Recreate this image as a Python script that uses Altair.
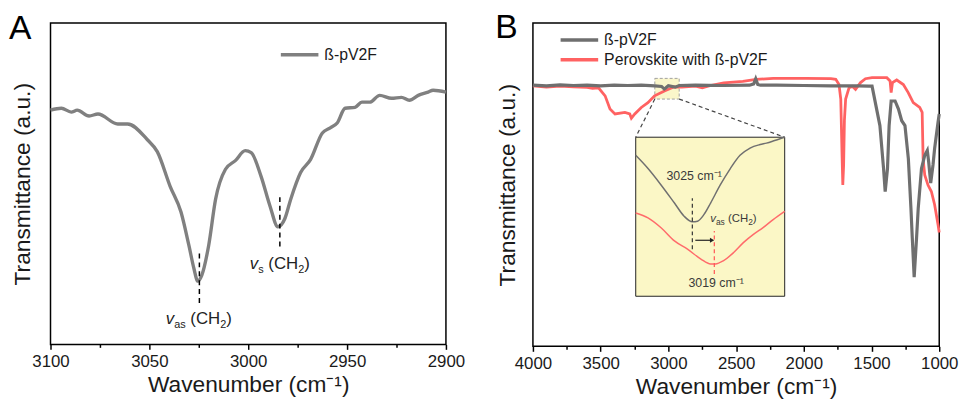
import altair as alt
import pandas as pd

FONT = "Liberation Sans"
INK = "#1a1a1a"

# ---------------- Panel A : beta-pV2F, 3100-2900 cm-1 ----------------
a_wn = [3100, 3094.5, 3089.5, 3086.5, 3080.5, 3076, 3066, 3061, 3051, 3046, 3039.5, 3034,
        3030, 3027.5, 3025.5, 3023.5, 3020, 3016.5, 3011.5, 3006.5, 3001.5, 2998.5, 2993.5,
        2989, 2985, 2981.5, 2978.5, 2973.5, 2968.5, 2962.5, 2958.5, 2955, 2951, 2946, 2942.5,
        2938.5, 2933.5, 2927.5, 2922.5, 2918.5, 2914, 2909, 2906.5, 2900]
a_t = [72.9, 73.5, 72.3, 72.9, 71.1, 71.7, 68.6, 68.6, 63.7, 60.0, 49.2, 41.2,
       30.8, 23.7, 19.7, 21.5, 30.8, 45.2, 54.5, 57.2, 60.3, 59.7, 52.3,
       43.1, 36.6, 39.1, 45.2, 53.5, 57.5, 65.8, 67.4, 68.9, 73.5, 73.8, 75.4,
       75.4, 77.5, 76.6, 76.9, 76.0, 77.5, 78.5, 79.1, 78.5]
a_ticks = [3100, 3050, 3000, 2950, 2900]
a_minor = [3075, 3025, 2975, 2925]
# peak markers (dashed) : wavenumber, lower and upper end
a_mark_wn = [3024.7, 2984.0]
a_mark_lo = [12.9, 30.5]
a_mark_hi = [28.9, 45.8]
# peak labels: centre wavenumber, baseline level, subscript
a_lab_wn = [3025.0, 2984.0]
a_lab_t = [6.2, 23.4]
a_lab_sub = ["as", "s"]

# ---------------- Panel B : full spectra 4000-1000 cm-1 ----------------
series = ["ß-pV2F", "Perovskite with ß-pV2F"]
colors = ["#6f6f6f", "#ff6262"]
b_gray_wn = [4000, 3900, 3800, 3700, 3600, 3500, 3400, 3300, 3200, 3100, 3050, 3030, 3020,
             3000, 2950, 2920, 2800, 2600, 2400, 2370, 2355, 2340, 2320, 2200, 2000, 1800,
             1600, 1520, 1496, 1438, 1411, 1399, 1382, 1370, 1355, 1326, 1301, 1277, 1253,
             1228, 1209, 1199, 1185, 1168, 1155, 1131, 1107, 1088, 1078, 1063, 1046, 1034,
             1009, 1000]
b_gray_t = [80.8, 80.6, 80.9, 80.7, 80.8, 80.6, 80.8, 80.7, 80.8, 80.6, 80.4, 79.6, 79.9,
            80.6, 80.2, 80.7, 80.8, 80.7, 80.8, 81.2, 82.8, 81.0, 80.8, 80.8, 80.7, 80.6,
            80.6, 80.5, 80.5, 68.3, 55.0, 47.9, 55.0, 68.3, 75.9, 75.9, 73.4, 69.8, 68.3,
            58.1, 42.8, 33.6, 21.4, 33.1, 42.8, 55.0, 59.1, 60.6, 57.1, 50.5, 56.1, 61.2,
            69.3, 71.9]
b_red_wn = [4000, 3900, 3800, 3700, 3600, 3560, 3516, 3467, 3431, 3394, 3321, 3285, 3273,
            3248, 3200, 3151, 3102, 3029, 2956, 2900, 2800, 2750, 2700, 2591, 2450, 2353,
            2226, 1985, 1800, 1764, 1740, 1727, 1718, 1712, 1706, 1700, 1691, 1666, 1640,
            1618, 1581, 1545, 1496, 1387, 1363, 1355, 1345, 1314, 1265, 1229, 1192, 1144,
            1126, 1119, 1107, 1083, 1058, 1034, 1009, 1000]
b_red_t = [80.6, 80.2, 80.5, 80.3, 80.1, 79.8, 80.0, 77.5, 73.4, 71.9, 72.4, 71.9, 70.6,
           71.9, 73.9, 75.4, 77.5, 79.0, 80.3, 80.2, 80.5, 80.0, 80.6, 81.5, 82.0, 82.6,
           82.9, 82.9, 82.8, 82.6, 81.0, 76.5, 60.0, 49.9, 56.0, 70.0, 76.5, 80.0, 80.4,
           79.5, 81.6, 82.8, 83.1, 83.1, 82.1, 78.5, 81.6, 82.4, 81.0, 78.5, 75.4, 73.9,
           72.4, 58.1, 53.0, 49.9, 47.9, 43.8, 37.7, 35.2]
b_ticks = [4000, 3500, 3000, 2500, 2000, 1500, 1000]
b_minor = [3750, 3250, 2750, 2250, 1750, 1250]
# zoom window on the spectra and where the inset sits (in the main axes' units)
zoom_wn = [3100, 2920]
zoom_t = [76.5, 82.9]
inset_wn = [3241, 2141]
inset_t = [15.5, 64.7]

# ---------------- Inset : 3040-3000 cm-1 ----------------
in_gray_wn = [3040, 3036.7, 3033.2, 3029.6, 3027, 3024.8, 3023.4, 3021.7, 3019.9, 3017.3,
              3014.6, 3012, 3009.3, 3006.6, 3004.9, 3002.7, 3000]
in_gray_t = [88.6, 80.3, 70.0, 58.6, 50.3, 46.8, 47.2, 51.3, 58.6, 70.0,
             80.3, 88.6, 93.2, 95.4, 96.3, 97.9, 100.0]
in_red_wn = [3040, 3036.7, 3033.2, 3029.6, 3026.1, 3022.5, 3019.9, 3018.6, 3016.4, 3013.7,
             3011.1, 3008.4, 3005.8, 3003.1, 3000]
in_red_t = [52.4, 49.3, 43.1, 34.8, 29.6, 23.4, 20.3, 20.3, 22.4, 27.5,
            33.7, 38.9, 43.1, 48.2, 53.4]
in_ticks = [3040, 3030, 3020, 3010, 3000]
in_mark_wn = [3024.8, 3018.9]
in_mark_lo = [29.6, 14.0]
in_mark_hi = [61.7, 41.0]
in_mark_col = ["#333333", "#ff5555"]
in_arrow = [3024.0, 3019.5, 35.2]
in_peak_wn = [3024.3, 3018.4]
in_peak_t = [73.0, 5.8]
in_peak_txt = ["3025 cm⁻¹", "3019 cm⁻¹"]
in_lab = [3020.0, 46.8]

# ---------------- layout constants ----------------
A_W, A_H = 400, 325
B_W, B_H = 411, 327

ARIAL = {"v": 0.5, "a": 0.556, "s": 0.5, " ": 0.278, "(": 0.333, "C": 0.722,
         "H": 0.722, "2": 0.556, ")": 0.333}


def tw(s, fs):
    return sum(ARIAL.get(c, 0.556) for c in s) * fs


def composite(x, y, sub, xs, ys, big, small, sdy, center, color):
    # (text, size, italic, dy, extra gap before)
    segs = [("v", big, True, 0, 0.0), (sub, small, False, sdy, 0.0),
            ("(CH", big, False, 0, tw(" ", big)), ("2", small, False, sdy, 0.0),
            (")", big, False, 0, 0.0)]
    total = sum(tw(s, f) + g for s, f, _, _, g in segs)
    cur = -total / 2 if center else 0
    out = []
    df = pd.DataFrame({"x": [x], "y": [y]})
    for s, f, it, dy, gap in segs:
        cur += gap
        out.append(
            alt.Chart(df).mark_text(align="left", baseline="alphabetic", dx=cur, dy=dy,
                                    fontSize=f, font=FONT, color=color,
                                    fontStyle="italic" if it else "normal", text=s)
            .encode(x=alt.X("x:Q", scale=xs, axis=None), y=alt.Y("y:Q", scale=ys, axis=None))
        )
        cur += tw(s, f)
    return out


def main_axis(values, title):
    return alt.Axis(values=values, format="d", title=title, labelFontSize=17,
                    titleFontSize=23, titleFontWeight="normal", labelFlush=False,
                    labelOverlap=False, tickSize=5, tickWidth=1.5, tickColor="black",
                    domain=False, grid=False, labelPadding=4, titlePadding=5,
                    labelColor=INK, titleColor=INK, labelFont=FONT, titleFont=FONT)


def minor_axis(values):
    return alt.Axis(orient="bottom", values=values, labels=False, title=None, tickSize=3,
                    tickWidth=1.5, tickColor="black", domain=False, grid=False)


def y_title_axis(pad):
    return alt.Axis(title="Transmittance (a.u.)", labels=False, ticks=False, domain=False,
                    grid=False, titleFontSize=23, titleFontWeight="normal", titlePadding=pad,
                    titleColor=INK, titleFont=FONT)


def legend(lx, ly):
    return alt.Legend(orient="none", legendX=lx, legendY=ly, title=None, symbolType="stroke",
                      symbolSize=1444, symbolStrokeWidth=3.5, clipHeight=20, labelFontSize=16,
                      labelFont=FONT, padding=0, labelOffset=4, rowPadding=0, labelColor=INK,
                      labelLimit=400)


# ================= Panel A =================
xsA = alt.Scale(domain=[2900, 3100], reverse=True, nice=False, zero=False)
ysA = alt.Scale(domain=[0, 100], nice=False, zero=False)

dfA = pd.DataFrame({"wn": a_wn, "t": a_t, "series": series[0]})
lineA = alt.Chart(dfA).mark_line(strokeWidth=3.4, interpolate="monotone").encode(
    x=alt.X("wn:Q", scale=xsA, axis=main_axis(a_ticks, "Wavenumber (cm⁻¹)")),
    y=alt.Y("t:Q", scale=ysA, axis=y_title_axis(16)),
    color=alt.Color("series:N", scale=alt.Scale(domain=[series[0]], range=["#808080"]),
                    legend=legend(231, 22)),
)
dfAm = pd.DataFrame({"wn": a_mark_wn, "lo": a_mark_lo, "hi": a_mark_hi})
marksA = alt.Chart(dfAm).mark_rule(color="black", strokeWidth=1.5, strokeDash=[5, 4]).encode(
    x=alt.X("wn:Q", scale=xsA, axis=minor_axis(a_minor)),
    y=alt.Y("lo:Q", scale=ysA, axis=None), y2="hi:Q",
)
labelsA = []
for wn_, t_, sub_ in zip(a_lab_wn, a_lab_t, a_lab_sub):
    labelsA += composite(wn_, t_, sub_, xsA, ysA, 17, 11, 4, True, "#222222")
letterA = alt.Chart(pd.DataFrame({"k": ["A"]})).mark_text(
    x=-42, y=16, fontSize=34, align="left", baseline="alphabetic", font=FONT, color="black"
).encode(text="k:N")

panelA = alt.layer(lineA, marksA, *labelsA, letterA).resolve_axis(
    x="independent", y="independent").properties(width=A_W, height=A_H)

# ================= Panel B =================
xsB = alt.Scale(domain=[1000, 4000], reverse=True, nice=False, zero=False)
ysB = alt.Scale(domain=[0, 100], nice=False, zero=False)
colB = alt.Scale(domain=series, range=colors)

dfZoom = pd.DataFrame({"x1": [zoom_wn[0]], "x2": [zoom_wn[1]], "y1": [zoom_t[0]], "y2": [zoom_t[1]]})
zoomRect = alt.Chart(dfZoom).mark_rect(fill="#f5ef9f", fillOpacity=0.55, stroke="#a0a0a0",
                                       strokeDash=[3, 2], strokeWidth=1).encode(
    x=alt.X("x1:Q", scale=xsB, axis=None), x2="x2:Q",
    y=alt.Y("y1:Q", scale=ysB, axis=None), y2="y2:Q")

dfRed = pd.DataFrame({"wn": b_red_wn, "t": b_red_t, "series": series[1]})
dfGray = pd.DataFrame({"wn": b_gray_wn, "t": b_gray_t, "series": series[0]})
redB = alt.Chart(dfRed).mark_line(strokeWidth=2.8).encode(
    x=alt.X("wn:Q", scale=xsB, axis=main_axis(b_ticks, "Wavenumber (cm⁻¹)")),
    y=alt.Y("t:Q", scale=ysB, axis=y_title_axis(14)),
    color=alt.Color("series:N", scale=colB, legend=legend(26, 7)))
grayB = alt.Chart(dfGray).mark_line(strokeWidth=3.2).encode(
    x=alt.X("wn:Q", scale=xsB, axis=None),
    y=alt.Y("t:Q", scale=ysB, axis=None),
    color=alt.Color("series:N", scale=colB, legend=legend(26, 7)))

dfConn = pd.DataFrame({"x1": zoom_wn, "y1": [zoom_t[0], zoom_t[0]],
                       "x2": inset_wn, "y2": [inset_t[1], inset_t[1]]})
conn = alt.Chart(dfConn).mark_rule(color="#444444", strokeWidth=1.2, strokeDash=[4, 3]).encode(
    x=alt.X("x1:Q", scale=xsB, axis=minor_axis(b_minor)), x2="x2:Q",
    y=alt.Y("y1:Q", scale=ysB, axis=None), y2="y2:Q")
letterB = alt.Chart(pd.DataFrame({"k": ["B"]})).mark_text(
    x=-38, y=15, fontSize=34, align="left", baseline="alphabetic", font=FONT, color="black"
).encode(text="k:N")

mainB = alt.layer(zoomRect, redB, grayB, conn, letterB).resolve_axis(
    x="independent", y="independent")

# inset scales: pixel range derived from where the inset sits in the main axes
in_left = (4000 - inset_wn[0]) / 3000 * B_W
in_right = (4000 - inset_wn[1]) / 3000 * B_W
in_bottom = B_H * (1 - inset_t[0] / 100)
in_top = B_H * (1 - inset_t[1] / 100)
xsI = alt.Scale(domain=[3000, 3040], range=[in_right, in_left], nice=False, zero=False)
ysI = alt.Scale(domain=[0, 100], range=[in_bottom, in_top], nice=False, zero=False)

dfFrame = pd.DataFrame({"x1": [3040], "x2": [3000], "y1": [0], "y2": [100]})
frameI = alt.Chart(dfFrame).mark_rect(fill="#fbf7c6", stroke="#222222", strokeWidth=1).encode(
    x=alt.X("x1:Q", scale=xsI,
            axis=alt.Axis(orient="bottom", offset=-(B_H - in_bottom), values=in_ticks,
                          format="d", labelFontSize=11.5, labelFlush=False, labelOverlap=False,
                          ticks=False, domain=False, grid=False, title="Wavenumber (cm⁻¹)",
                          titleFontSize=14, titleFontWeight="normal", labelPadding=4,
                          titlePadding=4, labelColor="#444444", titleColor="#444444",
                          labelFont=FONT, titleFont=FONT)),
    x2="x2:Q",
    y=alt.Y("y1:Q", scale=ysI,
            axis=alt.Axis(orient="left", offset=-in_left, labels=False, ticks=False,
                          domain=False, grid=False, title="Transmittance (a.u.)",
                          titleFontSize=14, titleFontWeight="normal", titlePadding=5,
                          titleColor="#444444", titleFont=FONT)),
    y2="y2:Q")

dfIg = pd.DataFrame({"wn": in_gray_wn, "t": in_gray_t})
dfIr = pd.DataFrame({"wn": in_red_wn, "t": in_red_t})
grayI = alt.Chart(dfIg).mark_line(color="#707070", strokeWidth=1.5, interpolate="monotone").encode(
    x=alt.X("wn:Q", scale=xsI, axis=None), y=alt.Y("t:Q", scale=ysI, axis=None))
redI = alt.Chart(dfIr).mark_line(color="#ff6b6b", strokeWidth=1.5, interpolate="monotone").encode(
    x=alt.X("wn:Q", scale=xsI, axis=None), y=alt.Y("t:Q", scale=ysI, axis=None))
dfIm = pd.DataFrame({"wn": in_mark_wn, "lo": in_mark_lo, "hi": in_mark_hi, "c": in_mark_col})
marksI = alt.Chart(dfIm).mark_rule(strokeWidth=1.2, strokeDash=[4, 3]).encode(
    x=alt.X("wn:Q", scale=xsI, axis=None), y=alt.Y("lo:Q", scale=ysI, axis=None), y2="hi:Q",
    color=alt.Color("c:N", scale=None))
dfArr = pd.DataFrame({"x1": [in_arrow[0]], "x2": [in_arrow[1]], "y": [in_arrow[2]]})
arrowLine = alt.Chart(dfArr).mark_rule(color="#222222", strokeWidth=1.2).encode(
    x=alt.X("x1:Q", scale=xsI, axis=None), x2="x2:Q", y=alt.Y("y:Q", scale=ysI, axis=None))
arrowHead = alt.Chart(dfArr).mark_point(shape="triangle-right", filled=True, size=25,
                                        color="#222222", opacity=1).encode(
    x=alt.X("x2:Q", scale=xsI, axis=None), y=alt.Y("y:Q", scale=ysI, axis=None))
dfPk = pd.DataFrame({"wn": in_peak_wn, "t": in_peak_t, "txt": in_peak_txt})
peakTxt = alt.Chart(dfPk).mark_text(fontSize=12.5, font=FONT, color="#3a3a3a", align="center",
                                    baseline="alphabetic").encode(
    x=alt.X("wn:Q", scale=xsI, axis=None), y=alt.Y("t:Q", scale=ysI, axis=None), text="txt:N")
labI = composite(in_lab[0], in_lab[1], "as", xsI, ysI, 11.5, 8.5, 3, False, "#3a3a3a")

insetB = alt.layer(frameI, grayI, redI, marksI, arrowLine, arrowHead, peakTxt, *labI)

panelB = alt.layer(mainB, insetB).resolve_scale(x="independent", y="independent").properties(
    width=B_W, height=B_H)

chart = alt.hconcat(panelA, panelB, spacing=88, bounds="flush").resolve_scale(
    color="independent").properties(padding=0).configure_view(
    stroke="black", strokeWidth=1.5).configure_axis(labelFont=FONT, titleFont=FONT).configure_text(
    font=FONT)

chart.save("out.html", embed_options={"renderer": "svg", "actions": False})
